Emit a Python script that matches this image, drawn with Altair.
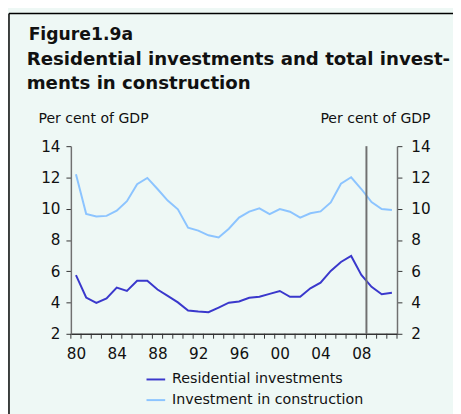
import altair as alt
import pandas as pd

years = list(range(1980, 2012))
residential = [5.75, 4.32, 3.97, 4.26, 4.95, 4.74, 5.39, 5.39, 4.83, 4.43,
               4.01, 3.49, 3.42, 3.38, 3.68, 3.99, 4.07, 4.30, 4.37, 4.55,
               4.74, 4.37, 4.37, 4.91, 5.27, 6.02, 6.59, 6.98, 5.77, 5.00,
               4.53, 4.62]
construction = [12.2, 9.67, 9.5, 9.54, 9.87, 10.48, 11.57, 11.97, 11.26, 10.52,
                9.96, 8.79, 8.6, 8.3, 8.16, 8.72, 9.43, 9.81, 10.02, 9.66,
                9.98, 9.81, 9.43, 9.71, 9.83, 10.4, 11.6, 12.01, 11.26, 10.42,
                9.98, 9.92]
series_names = ["Residential investments", "Investment in construction"]
series_colors = ["#3a38cc", "#8cc4ff"]
y_ticks = [2, 4, 6, 8, 10, 12, 14]
x_tick_pos = [y + 0.5 for y in range(1979, 2012)]
forecast_line = 2008.5

title1 = "Figure1.9a"
title2 = "Residential investments and total invest-"
title3 = "ments in construction"
unit_label = "Per cent of GDP"

FONT = "DejaVu Sans"
BG = "#eef8f5"
AX = "#707070"

rows = []
for i, yv in enumerate(years):
    rows.append({"year": yv, "value": residential[i], "series": series_names[0]})
    rows.append({"year": yv, "value": construction[i], "series": series_names[1]})
df = pd.DataFrame(rows)

xscale = alt.Scale(domain=[1979.5, 2011.5], nice=False, zero=False)
yscale = alt.Scale(domain=[2, 14], nice=False, zero=False)

x_axis = alt.Axis(
    values=x_tick_pos, title=None, grid=False, ticks=False,
    domainColor="#333", domainWidth=1.5,
    labelFontSize=15.5, labelFont=FONT,
    labelColor="#111", labelOverlap=False, labelBound=False, labelFlush=False,
    labelOffset=5.19, labelPadding=13,
    labelExpr="((datum.value - 1979.5) % 4 == 0 && datum.value < 2010) ? substring(toString(datum.value + 0.5), 2, 4) : ''",
)

def y_axis(orient, pad):
    return alt.Axis(
        orient=orient, values=y_ticks, title=None, grid=False, domainColor=AX,
        domainWidth=1.5, tickColor="#333", tickSize=5, tickWidth=1, labelFontSize=15.5,
        labelFont=FONT, labelColor="#111", labelPadding=pad,
    )

color = alt.Color(
    "series:N",
    scale=alt.Scale(domain=series_names, range=series_colors),
    sort=series_names,
    legend=alt.Legend(
        orient="none", legendX=76, legendY=227, title=None, symbolType="stroke",
        symbolSize=361, symbolStrokeWidth=2, labelFontSize=14.5, labelFont=FONT,
        labelColor="#111", rowPadding=4, labelOffset=6, direction="vertical",
        labelLimit=0,
    ),
)

base = alt.Chart(df)
X = alt.X("year:Q", scale=xscale, axis=x_axis)
lines = base.mark_line(strokeWidth=2).encode(
    x=X,
    y=alt.Y("value:Q", scale=yscale, axis=y_axis("left", 6)),
    color=color,
    detail="series:N",
)
lines_right = base.mark_line(opacity=0).encode(
    x=X,
    y=alt.Y("value:Q", scale=yscale, axis=y_axis("right", 9)),
    detail="series:N",
)
vline = alt.Chart(pd.DataFrame({"year": [forecast_line]})).mark_rule(
    color=AX, strokeWidth=2
).encode(x=X)
xticks = alt.Chart(pd.DataFrame({"year": x_tick_pos})).mark_rule(
    color="#333", strokeWidth=1
).encode(x=X, y=alt.value(191), y2=alt.value(196))

one = pd.DataFrame({"a": [0]})

def text(t, x, y, size, weight="normal"):
    return alt.Chart(one).mark_text(
        text=t, align="left", baseline="alphabetic", font=FONT, fontSize=size,
        fontWeight=weight, color="#111",
    ).encode(x=alt.value(x), y=alt.value(y))

border_top = alt.Chart(one).mark_rule(color="#000", strokeWidth=1.5).encode(
    x=alt.value(-63), x2=alt.value(400), y=alt.value(-135))
border_left = alt.Chart(one).mark_rule(color="#000", strokeWidth=1.5).encode(
    x=alt.value(-63), y=alt.value(-135), y2=alt.value(280))

chart = alt.layer(
    lines, lines_right, vline, xticks,
    text(title1, -43, -108, 17.5, "bold"),
    text(title2, -45, -83, 18.5, "bold"),
    text(title3, -45, -58, 18.5, "bold"),
    text(unit_label, -33, -24, 14.3),
    text(unit_label, 254, -24, 14.3),
    border_top, border_left,
).resolve_axis(y="independent").properties(
    width=332, height=191,
    autosize=alt.AutoSizeParams(type="none"),
    padding={"left": 64, "top": 137, "right": 57, "bottom": 78},
    background=BG,
).configure_view(stroke=None)

chart.save("out.html", embed_options={"renderer": "svg", "actions": False})
